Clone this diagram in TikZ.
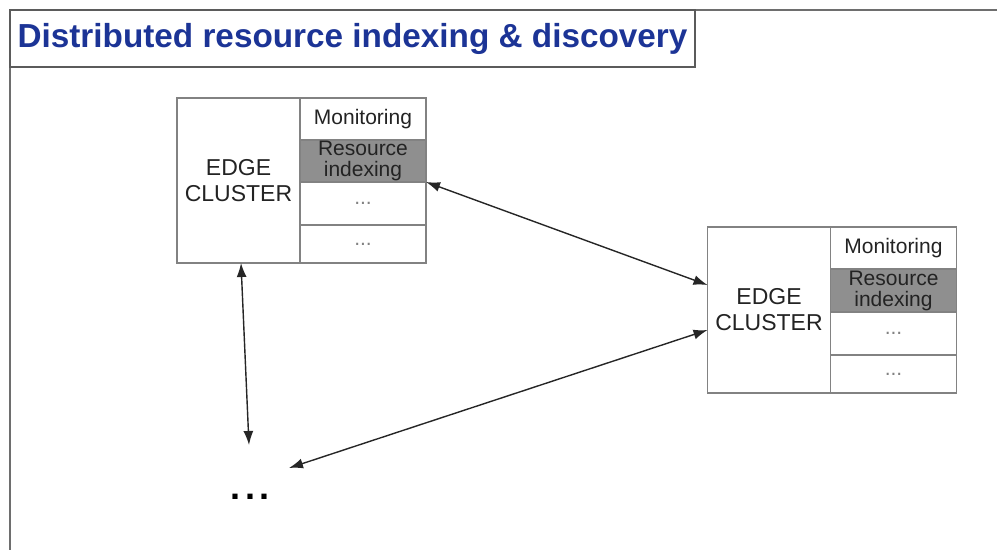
\documentclass[tikz,border=0pt]{standalone}
\usepackage{fontspec}
\setmainfont{Liberation Sans}
\usetikzlibrary{arrows.meta,positioning}

\definecolor{titleblue}{RGB}{28,52,150}
\definecolor{boxgray}{RGB}{130,130,130}
\definecolor{cellfill}{RGB}{143,143,143}
\definecolor{textgray}{RGB}{35,35,35}

\tikzset{
    frameline/.style={draw=boxgray!85!black,line width=1.5pt},
    titlebox/.style={draw=boxgray!70!black,line width=1.3pt,minimum width=685,minimum height=57,
        inner sep=0pt,outer sep=0pt,text=titleblue,
        font=\fontsize{33.3}{36}\selectfont\bfseries},
    edgebox/.style={draw=boxgray,line width=1.5pt,minimum width=123,minimum height=165,inner sep=0pt,
        outer sep=0pt,align=center,text=textgray,font=\fontsize{23}{26}\selectfont},
    cell/.style={draw=boxgray,line width=1.5pt,minimum width=126,minimum height=42,inner sep=0pt,
        outer sep=0pt,align=center,text=textgray,font=\fontsize{21}{21}\selectfont},
    busy/.style={cell,fill=cellfill},
    dotcell/.style={cell,text=boxgray,font=\fontsize{21}{21}\selectfont},
    link/.style={{Latex[length=14pt,width=10pt]}-{Latex[length=14pt,width=10pt]},line width=1.4pt,draw=black!85}
}

\begin{document}
\begin{tikzpicture}[x=1pt,y=-1pt]
    \useasboundingbox (0,0) rectangle (997,550);

    % slide frame
    \draw[frameline] (997,10) -- (10,10) -- (10,550);

    % slide title
    \node[titlebox,anchor=north west] (title) at (10,10) {Distributed resource indexing \& discovery};

    % first edge cluster (top left)
    \node[edgebox] (ledge) at (238.5,180.5) {EDGE\\CLUSTER};
    \node[cell,anchor=north west] (lmon) at (ledge.north east) {Monitoring};
    \node[busy,below=0pt of lmon] (lres) {Resource\\indexing};
    \node[dotcell,below=0pt of lres,minimum height=43] (lmore) {...};
    \node[dotcell,below=0pt of lmore,minimum height=38] (lrest) {...};

    % second edge cluster (right)
    \node[edgebox,minimum height=166] (redge) at (769,310) {EDGE\\CLUSTER};
    \node[cell,anchor=north west] (rmon) at (redge.north east) {Monitoring};
    \node[busy,below=0pt of rmon,minimum height=43] (rres) {Resource\\indexing};
    \node[dotcell,below=0pt of rres,minimum height=43] (rmore) {...};
    \node[dotcell,below=0pt of rmore,minimum height=38] (rrest) {...};

    % further clusters
    \node[anchor=base,font=\fontsize{36}{36}\selectfont\bfseries] (others) at (250,499) {.\hspace{4pt}.\hspace{4pt}.};
    \coordinate (othersN) at (249,445);
    \coordinate (othersE) at (289,468);

    % links between clusters
    \draw[link] (lres.south east) -- ([yshift=25pt]redge.west);
    \draw[link] ([xshift=2.5pt]ledge.south) -- (othersN);
    \draw[link] ([yshift=-20pt]redge.west) -- (othersE);

\end{tikzpicture}
\end{document}
